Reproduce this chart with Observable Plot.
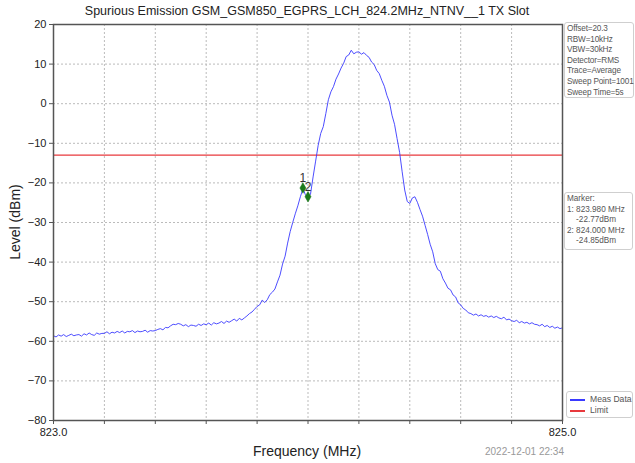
<!DOCTYPE html>
<html><head><meta charset="utf-8">
<script src="https://cdn.jsdelivr.net/npm/d3@7"></script>
<script src="https://cdn.jsdelivr.net/npm/@observablehq/plot@0.6"></script>
<style>
body{margin:0;font-family:"Liberation Sans",Arial,sans-serif;background:#fff;}
#wrap{position:relative;width:635px;height:463px;overflow:hidden;}
#wrap svg{position:absolute;left:0;top:0;}
.box{position:absolute;border:1px solid #cfcfcf;border-radius:3px;background:#fff;font-size:8.2px;line-height:10.6px;color:#555;padding:1px 2px;white-space:pre;box-sizing:border-box;}
.lbl{position:absolute;white-space:nowrap;color:#222;}
</style></head>
<body><div id="wrap"></div>
<script>
const startMHz = 823.0;
const stepMHz = 0.01;
const levels = [
-58.6,-58.9,-58.4,-58.7,-58.3,-58.8,-58.5,-58.2,-58.6,-58.4,
-58.3,-58.7,-58.1,-58.4,-57.9,-58.3,-58.5,-57.9,-58.2,-58.0,
-58.0,-57.6,-58.1,-57.7,-57.9,-57.5,-57.8,-57.4,-57.9,-57.5,
-57.6,-57.3,-57.8,-57.4,-57.6,-57.5,-57.2,-57.7,-57.3,-57.4,
-57.3,-57.0,-56.8,-57.1,-56.5,-56.6,-56.1,-55.7,-55.8,-55.5,
-55.7,-56.1,-55.8,-56.3,-55.9,-56.0,-56.2,-55.7,-56.0,-55.6,
-55.8,-55.4,-55.9,-55.3,-55.6,-55.4,-55.0,-55.5,-54.9,-55.2,
-54.8,-54.4,-54.9,-54.2,-54.6,-54.1,-53.6,-53.0,-52.6,-51.9,
-51.2,-50.8,-49.6,-50.2,-49.5,-48.2,-47.6,-46.8,-45.0,-43.3,
-40.5,-38.5,-35.2,-32.3,-30.0,-27.8,-25.8,-23.5,-21.5,-23.0,
-23.8,-22.8,-18.5,-14.5,-10.5,-7.5,-5.8,-2.5,1.0,3.0,
4.3,6.2,7.5,9.0,10.2,11.9,12.3,13.5,12.6,13.0,
13.1,12.5,12.9,12.2,11.7,10.5,9.9,8.4,7.6,5.9,
4.4,2.1,0.4,-2.9,-5.2,-8.8,-12.3,-17.2,-21.8,-24.7,
-25.2,-23.8,-23.5,-24.9,-26.7,-28.4,-30.7,-33.0,-35.5,-37.4,
-40.4,-41.9,-42.3,-44.2,-45.3,-46.6,-47.0,-48.3,-48.8,-50.3,
-50.8,-51.7,-52.1,-52.8,-53.0,-53.4,-53.1,-53.6,-53.3,-53.7,
-53.5,-53.9,-53.6,-54.0,-53.7,-54.1,-54.3,-53.9,-54.6,-54.4,
-54.8,-55.0,-54.7,-55.3,-55.0,-55.4,-55.2,-55.6,-55.3,-55.7,
-55.8,-56.1,-55.7,-56.3,-56.0,-56.5,-56.2,-56.7,-56.4,-56.8,
-56.6
];
const xTicks = [823.0,823.2,823.4,823.6,823.8,824.0,824.2,824.4,824.6,824.8,825.0];
const xTickLabels = ["823.0","","","","","","","","","","825.0"];
const yTicks = [-80,-70,-60,-50,-40,-30,-20,-10,0,10,20];
const limitLevel = -13;
const markerNames = ["1","2"];
const markerFreqs = [823.98, 824.00];
const markerLevels = [-21.3, -23.5];
const titleText = "Spurious Emission GSM_GSM850_EGPRS_LCH_824.2MHz_NTNV__1 TX Slot";
const xLabel = "Frequency (MHz)";
const yLabel = "Level (dBm)";
const dateText = "2022-12-01 22:34";
const infoLines = ["Offset=20.3","RBW=10kHz","VBW=30kHz","Detector=RMS","Trace=Average","Sweep Point=1001","Sweep Time=5s"];
const markerLines = ["Marker:","1: 823.980 MHz","    -22.77dBm","2: 824.000 MHz","    -24.85dBm"];
const legendLabels = ["Meas Data","Limit"];
const legendColors = ["#3a3aff","#e8393d"];

const trace = levels.map((v,i)=>({f: startMHz + i*stepMHz, v}));
const markers = markerNames.map((n,i)=>({n, f: markerFreqs[i], v: markerLevels[i]}));

const W = 635, H = 463;
const plot = Plot.plot({
  width: W, height: H,
  marginLeft: 53, marginRight: 73, marginTop: 24, marginBottom: 43,
  style: {fontFamily: '"Liberation Sans", Arial, sans-serif', fontSize: "11px", color: "#222", background: "transparent"},
  x: {domain: [823, 825]},
  y: {domain: [-80, 20]},
  marks: [
    Plot.gridX(xTicks, {stroke: "#bbb", strokeOpacity: 1, strokeDasharray: "2,2"}),
    Plot.gridY(yTicks, {stroke: "#bbb", strokeOpacity: 1, strokeDasharray: "2,2"}),
    Plot.ruleY([limitLevel], {stroke: legendColors[1], strokeWidth: 1.2}),
    Plot.line(trace, {x: "f", y: "v", stroke: legendColors[0], strokeWidth: 1, strokeOpacity: 0.9}),
    Plot.dot(markers, {x: "f", y: "v", symbol: "diamond", r: 3.2, fill: "#1b7a1b", stroke: "#1b7a1b", strokeWidth: 0.5}),
    Plot.text(markers, {x: "f", y: "v", text: "n", dy: -10, fontSize: 12, fill: "#333"}),
    Plot.axisX(xTicks, {tickSize: 4, tickFormat: (d,i) => xTickLabels[i], label: null, fontSize: 11, stroke: "#555", tickPadding: 4}),
    Plot.axisY(yTicks, {tickSize: 4, label: null, fontSize: 11, stroke: "#555", tickPadding: 3}),
    Plot.frame({stroke: "#555", strokeWidth: 1.5})
  ]
});
const wrap = document.getElementById("wrap");
wrap.appendChild(plot);

function addLabel(text, css){ const d=document.createElement("div"); d.className="lbl"; d.textContent=text; Object.assign(d.style, css); wrap.appendChild(d); return d; }
addLabel(titleText, {left:"307px", top:"4px", transform:"translateX(-50%)", fontSize:"12.5px"});
addLabel(xLabel, {left:"307px", top:"443px", transform:"translateX(-50%)", fontSize:"14px"});
addLabel(yLabel, {left:"15px", top:"222px", transform:"translate(-50%,-50%) rotate(-90deg)", fontSize:"14px"});
addLabel(dateText, {left:"485px", top:"446px", fontSize:"10px", color:"#999"});

function addBox(lines, css){ const d=document.createElement("div"); d.className="box"; d.textContent=lines.join("\n"); Object.assign(d.style, css); wrap.appendChild(d); }
addBox(infoLines, {left:"564px", top:"22px", width:"70px", height:"76px", letterSpacing:"-0.15px"});
addBox(markerLines, {left:"564px", top:"192px", width:"69px", height:"58px"});

const leg = document.createElement("div");
leg.className = "box";
Object.assign(leg.style, {left:"566px", top:"391px", width:"67px", height:"27px", padding:"2px 3px", fontSize:"8.6px"});
legendLabels.forEach((l,i)=>{
  const row = document.createElement("div");
  row.style.display="flex"; row.style.alignItems="center"; row.style.height="11px";
  const sw = document.createElement("span");
  Object.assign(sw.style,{display:"inline-block", width:"15px", height:"2px", flex:"0 0 15px", backgroundColor:legendColors[i], marginRight:"5px"});
  const tx = document.createElement("span"); tx.textContent = l;
  row.appendChild(sw); row.appendChild(tx); leg.appendChild(row);
});
wrap.appendChild(leg);
</script>
</body></html>
